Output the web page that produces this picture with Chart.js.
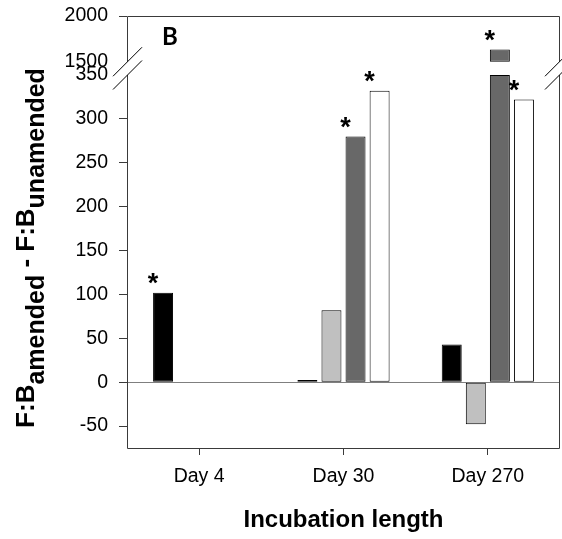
<!DOCTYPE html>
<html><head><meta charset="utf-8">
<script src="https://cdn.jsdelivr.net/npm/chart.js@4"></script>
<style>html,body{margin:0;padding:0;background:#fff;overflow:hidden}</style>
</head><body>
<canvas id="c" width="562" height="539"></canvas>
<script>
// ---- data ----
const categories = ['Day 4', 'Day 30', 'Day 270'];
const blackValues = [102, 2.5, 43];
const lightGreyValues = [null, 82, -48];
const darkGreyValues = [null, 280, 1635];
const whiteValues = [null, 332, 322];
const blackSig = [true, false, false];
const lightGreySig = [false, false, false];
const darkGreySig = [false, true, true];
const whiteSig = [false, true, true];
const lowerTicks = [-50, 0, 50, 100, 150, 200, 250, 300, 350];
const upperTicks = [1500, 2000];
const breakLow = 350;
const breakHigh = 1500;
const xTitle = 'Incubation length';
const yTitleParts = [['F:B', false], ['amended', true], [' - F:B', false], ['unamended', true]];
const panelLabel = 'B';

// ---- styles ----
const FONT = "'Liberation Sans', Arial, sans-serif";
const AXIS_COLOR = '#3a3a3a';
const series = [
  {values: blackValues, sig: blackSig, color: '#000000', stack: 'k'},
  {values: lightGreyValues, sig: lightGreySig, color: '#c0c0c0', stack: 'lg'},
  {values: darkGreyValues, sig: darkGreySig, color: '#686868', stack: 'dg'},
  {values: whiteValues, sig: whiteSig, color: '#ffffff', stack: 'w'}
];

const barStyle = s => ({
  backgroundColor: s.color, borderColor: '#000', borderWidth: 1, borderSkipped: false,
  stack: s.stack, categoryPercentage: 0.667, barPercentage: 0.83
});
const lowerSets = series.map(s => Object.assign(barStyle(s), {
  yAxisID: 'y',
  data: s.values.map(v => v == null ? null : Math.min(v, breakLow))
}));
const upperSets = series.map(s => Object.assign(barStyle(s), {
  yAxisID: 'y2',
  data: s.values.map(v => (v != null && v > breakHigh) ? [breakHigh, v] : null)
}));

const frameAndMarks = {
  id: 'frameAndMarks',
  afterDatasetsDraw(chart) {
    const ctx = chart.ctx;
    const {left, right, top, bottom} = chart.chartArea;
    const yUp = chart.scales.y2.getPixelForValue(breakHigh);
    const yLo = chart.scales.y.getPixelForValue(breakLow);
    const L = Math.round(left) + 0.5, R = Math.round(right) - 0.5;
    const T = Math.round(top) + 0.5, B = Math.round(bottom) + 0.5;
    ctx.save();
    ctx.strokeStyle = AXIS_COLOR;
    ctx.lineWidth = 1;
    ctx.beginPath();
    ctx.moveTo(L, T); ctx.lineTo(R, T);
    ctx.moveTo(L, T); ctx.lineTo(L, yUp);
    ctx.moveTo(R, T); ctx.lineTo(R, yUp);
    ctx.moveTo(L, yLo); ctx.lineTo(L, B);
    ctx.moveTo(R, yLo); ctx.lineTo(R, B);
    ctx.moveTo(L, B); ctx.lineTo(R, B);
    ctx.stroke();
    ctx.strokeStyle = '#000';
    ctx.beginPath();
    [L, R].forEach(x => {
      [yUp, yLo].forEach(y => {
        ctx.moveTo(x - 14.5, y + 14.5);
        ctx.lineTo(x + 14.5, y - 14.5);
      });
    });
    ctx.stroke();

    // significance asterisks
    const size = 27;
    ctx.fillStyle = '#000';
    ctx.font = 'bold ' + size + 'px ' + FONT;
    ctx.textAlign = 'center';
    ctx.textBaseline = 'alphabetic';
    series.forEach((s, si) => {
      s.sig.forEach((flag, j) => {
        if (!flag) return;
        const v = s.values[j];
        const dsIndex = v > breakHigh ? series.length + si : si;
        const el = chart.getDatasetMeta(dsIndex).data[j];
        const topPx = Math.min(el.y, el.base);
        ctx.fillText('*', el.x - 10, topPx - 16 + 0.565 * size);
      });
    });

    // panel label
    ctx.font = "bold 24px Lato, 'Open Sans', sans-serif";
    ctx.textAlign = 'left';
    ctx.fillText(panelLabel, 162, 45);
    ctx.restore();
  },
  afterDraw(chart) {
    const ctx = chart.ctx;
    ctx.save();
    const mainFont = 'bold 26px ' + FONT;
    const subFont = 'bold 25px ' + FONT;
    let total = 0;
    const widths = yTitleParts.map(([t, sub]) => {
      ctx.font = sub ? subFont : mainFont;
      const w = ctx.measureText(t).width;
      total += w;
      return w;
    });
    ctx.translate(34, 248);
    ctx.rotate(-Math.PI / 2);
    ctx.fillStyle = '#000';
    ctx.textBaseline = 'alphabetic';
    ctx.textAlign = 'left';
    let x = -total / 2;
    yTitleParts.forEach(([t, sub], i) => {
      ctx.font = sub ? subFont : mainFont;
      ctx.fillText(t, x, sub ? 10 : 0);
      x += widths[i];
    });
    ctx.restore();
  }
};

const tickFont = {family: FONT, size: 19.5};
const plainLabel = v => String(v);
const fitY = scale => { scale.width = 127; scale.paddingTop = 0; scale.paddingBottom = 0; };

new Chart(document.getElementById('c'), {
  type: 'bar',
  data: {labels: categories, datasets: lowerSets.concat(upperSets)},
  options: {
    responsive: false,
    animation: false,
    events: [],
    layout: {padding: {top: 16, right: 2, left: 0, bottom: 0}},
    plugins: {legend: {display: false}, tooltip: {enabled: false}},
    scales: {
      x: {
        type: 'category',
        offset: true,
        grid: {offset: false, drawOnChartArea: false, tickLength: 7, tickColor: AXIS_COLOR},
        border: {display: false},
        ticks: {font: tickFont, color: '#000', padding: 10, maxRotation: 0},
        title: {display: true, text: xTitle, color: '#000', font: {family: FONT, size: 24, weight: 'bold'}, padding: {top: 0, bottom: 4}},
        afterFit(scale) { scale.height = 91; }
      },
      y: {
        type: 'linear',
        position: 'left',
        stack: 'left',
        stackWeight: 373,
        weight: 0,
        stacked: false,
        min: -75,
        max: breakLow,
        afterBuildTicks(scale) { scale.ticks = lowerTicks.map(v => ({value: v})); },
        grid: {
          drawOnChartArea: true,
          tickLength: 8,
          color: c => (c.tick && c.tick.value === 0) ? '#7f7f7f' : 'rgba(0,0,0,0)',
          tickColor: c => (c.tick && c.tick.value === breakLow) ? 'rgba(0,0,0,0)' : AXIS_COLOR
        },
        border: {display: false},
        ticks: {font: tickFont, color: '#000', padding: 11, callback: plainLabel},
        afterFit: fitY
      },
      y2: {
        type: 'linear',
        position: 'left',
        stack: 'left',
        stackWeight: 59,
        weight: 1,
        stacked: false,
        min: 1355,
        max: 2000,
        afterBuildTicks(scale) { scale.ticks = upperTicks.map(v => ({value: v})); },
        grid: {
          drawOnChartArea: false,
          tickLength: 8,
          tickColor: c => (c.tick && c.tick.value === breakHigh) ? 'rgba(0,0,0,0)' : AXIS_COLOR
        },
        border: {display: false},
        ticks: {font: tickFont, color: '#000', padding: 11, callback: plainLabel},
        afterFit: fitY
      }
    }
  },
  plugins: [frameAndMarks]
});
</script>
</body></html>
